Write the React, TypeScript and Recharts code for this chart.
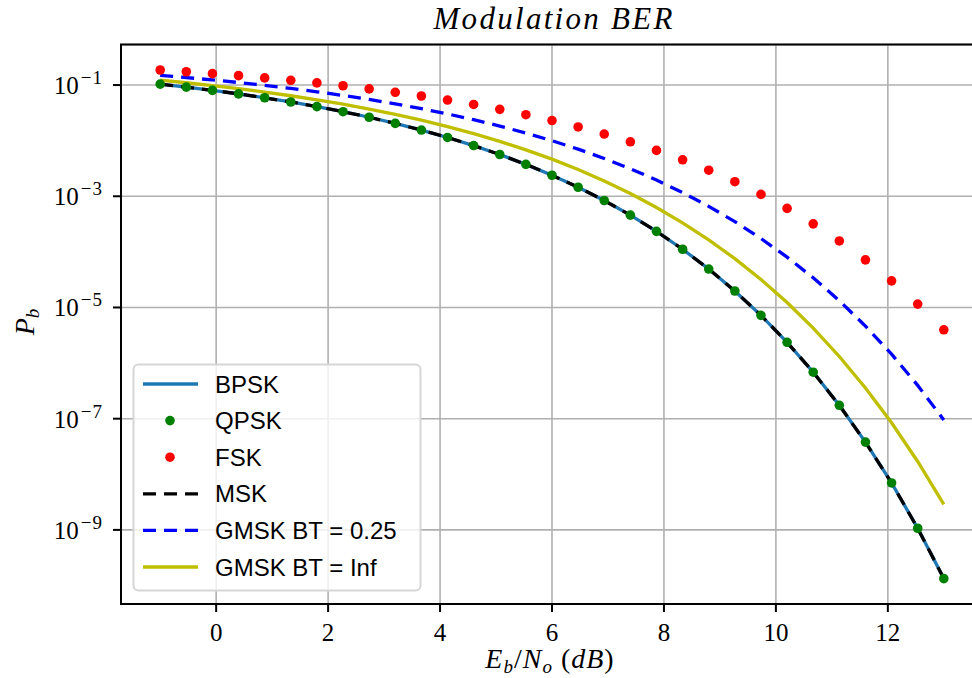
import React from 'react';
import { ComposedChart, Line, XAxis, YAxis, CartesianGrid, ReferenceArea } from 'recharts';

// Eb/No sample points (dB)
const ebno = [-1.0, -0.5333, -0.0667, 0.4, 0.8667, 1.3333, 1.8, 2.2667, 2.7333, 3.2, 3.6667, 4.1333, 4.6, 5.0667, 5.5333, 6.0, 6.4667, 6.9333, 7.4, 7.8667, 8.3333, 8.8, 9.2667, 9.7333, 10.2, 10.6667, 11.1333, 11.6, 12.0667, 12.5333, 13.0];

const bpsk = [0.1037, 0.09174, 0.08025, 0.06931, 0.05906, 0.04959, 0.04094, 0.03318, 0.02636, 0.02046, 0.0155, 0.011414, 0.00816, 0.005633, 0.003745, 0.002388, 0.001453, 8.385e-4, 4.575e-4, 2.341e-4, 1.115e-4, 4.908e-5, 1.977e-5, 7.217e-6, 2.364e-6, 6.858e-7, 1.739e-7, 3.79e-8, 6.991e-9, 1.071e-9, 1.332e-10];
const qpsk = [0.1037, 0.09174, 0.08025, 0.06931, 0.05906, 0.04959, 0.04094, 0.03318, 0.02636, 0.02046, 0.0155, 0.011414, 0.00816, 0.005633, 0.003745, 0.002388, 0.001453, 8.385e-4, 4.575e-4, 2.341e-4, 1.115e-4, 4.908e-5, 1.977e-5, 7.217e-6, 2.364e-6, 6.858e-7, 1.739e-7, 3.79e-8, 6.991e-9, 1.071e-9, 1.332e-10];
const fsk = [0.1864, 0.1735, 0.1605, 0.1475, 0.1346, 0.1218, 0.1093, 0.09711, 0.08535, 0.07416, 0.06359, 0.05375, 0.04473, 0.03656, 0.02932, 0.023, 0.01762, 0.013147, 0.009532, 0.006686, 0.004524, 0.002941, 0.001829, 0.0010812, 6.055e-4, 3.192e-4, 1.572e-4, 7.179e-5, 3.012e-5, 1.151e-5, 3.965e-6];
const msk = [0.1037, 0.09174, 0.08025, 0.06931, 0.05906, 0.04959, 0.04094, 0.03318, 0.02636, 0.02046, 0.0155, 0.011414, 0.00816, 0.005633, 0.003745, 0.002388, 0.001453, 8.385e-4, 4.575e-4, 2.341e-4, 1.115e-4, 4.908e-5, 1.977e-5, 7.217e-6, 2.364e-6, 6.858e-7, 1.739e-7, 3.79e-8, 6.991e-9, 1.071e-9, 1.332e-10];
const gmsk025 = [0.1493, 0.1364, 0.1236, 0.111, 0.09876, 0.08695, 0.07567, 0.06501, 0.05508, 0.04592, 0.03763, 0.03026, 0.02382, 0.01831, 0.013717, 0.009982, 0.007038, 0.004787, 0.00313, 0.0019585, 0.0011662, 6.588e-4, 3.502e-4, 1.741e-4, 8.034e-5, 3.414e-5, 1.324e-5, 4.626e-6, 1.444e-6, 3.969e-7, 9.48e-8];
const gmskInf = [0.1226, 0.11, 0.09784, 0.08607, 0.07483, 0.06422, 0.05435, 0.04526, 0.03704, 0.02974, 0.02337, 0.01793, 0.0134, 0.009731, 0.006841, 0.004659, 0.003025, 0.001886, 0.0011184, 6.288e-4, 3.329e-4, 1.646e-4, 7.551e-5, 3.188e-5, 1.2256e-5, 4.249e-6, 1.315e-6, 3.574e-7, 8.436e-8, 1.7e-8, 2.87e-9];

const xTicks = [0, 2, 4, 6, 8, 10, 12];
const yTickExponents = [-1, -3, -5, -7, -9];

const X_DOMAIN: [number, number] = [-1.7, 13.7];
const Y_DOMAIN: [number, number] = [4.649e-11, 0.5339];

const series = [
  { key: 'bpsk', name: 'BPSK', color: '#1f77b4', kind: 'line', dash: undefined as string | undefined },
  { key: 'qpsk', name: 'QPSK', color: '#008000', kind: 'dot', dash: undefined },
  { key: 'fsk', name: 'FSK', color: '#ff0000', kind: 'dot', dash: undefined },
  { key: 'msk', name: 'MSK', color: '#000000', kind: 'line', dash: '13 8' },
  { key: 'gmsk025', name: 'GMSK BT = 0.25', color: '#0000ff', kind: 'line', dash: '13 8' },
  { key: 'gmskInf', name: 'GMSK BT = Inf', color: '#bfbf00', kind: 'line', dash: undefined },
];

const data = ebno.map((x, i) => ({
  x,
  bpsk: bpsk[i],
  qpsk: qpsk[i],
  fsk: fsk[i],
  msk: msk[i],
  gmsk025: gmsk025[i],
  gmskInf: gmskInf[i],
}));

const SERIF = '"Liberation Serif", "DejaVu Serif", serif';
const SANS = '"Liberation Sans", Arial, sans-serif';
const LW = 3.3;
const DOT_R = 4.8;

const YTick = (props: any) => {
  const { x, y, payload } = props;
  const exp = Math.round(Math.log10(payload.value));
  return (
    <text x={x} y={y + 9} textAnchor="end" fontFamily={SERIF} fontSize={25} fill="#000">
      <tspan>10</tspan>
      <tspan dy={-10} dx={2} fontSize={19}>{'\u2212'}</tspan>
      <tspan dx={1} fontSize={19}>{Math.abs(exp)}</tspan>
    </text>
  );
};

const XTick = (props: any) => {
  const { x, y, payload } = props;
  return (
    <text x={x} y={y + 29} textAnchor="middle" fontFamily={SERIF} fontSize={25} fill="#000">
      {payload.value}
    </text>
  );
};

const Overlay = () => {
  const legendTop = 364;
  const rowY = (i: number) => 384 + i * 36.6;
  return (
    <svg width={972} height={678} style={{ position: 'absolute', left: 0, top: 0, pointerEvents: 'none' }}>
      {/* title */}
      <text x={553} y={29} textAnchor="middle" fontFamily={SERIF} fontStyle="italic" fontSize={31} textLength={239} lengthAdjust="spacing" fill="#000">
        Modulation BER
      </text>
      {/* x label */}
      <text x={550} y={668} textAnchor="middle" fontFamily={SERIF} fontSize={28} letterSpacing={1} fill="#000">
        <tspan fontStyle="italic">E</tspan>
        <tspan fontStyle="italic" fontSize={19} dy={5}>b</tspan>
        <tspan dy={-5}>/</tspan>
        <tspan fontStyle="italic">N</tspan>
        <tspan fontStyle="italic" fontSize={19} dy={5}>o</tspan>
        <tspan dy={-5}> (</tspan>
        <tspan fontStyle="italic">dB</tspan>
        <tspan>)</tspan>
      </text>
      {/* y label */}
      <g transform="translate(34,322) rotate(-90)">
        <text x={0} y={0} textAnchor="middle" fontFamily={SERIF} fontSize={28} fill="#000">
          <tspan fontStyle="italic">P</tspan>
          <tspan fontStyle="italic" fontSize={19} dy={5}>b</tspan>
        </text>
      </g>
      {/* legend */}
      <rect x={133.5} y={legendTop + 0.5} width={287} height={226} rx={5} ry={5} fill="#ffffff" fillOpacity={0.8} stroke="#d6d6d6" strokeWidth={2} />
      {series.map((s, i) => {
        const cy = rowY(i);
        return (
          <g key={s.key}>
            {s.kind === 'dot' ? (
              <circle cx={170} cy={cy} r={DOT_R} fill={s.color} />
            ) : (
              <line x1={143} x2={198} y1={cy} y2={cy} stroke={s.color} strokeWidth={LW} strokeDasharray={s.dash} />
            )}
            <text x={215} y={cy + 8.5} fontFamily={SANS} fontSize={24} fill="#000">
              {s.name}
            </text>
          </g>
        );
      })}
    </svg>
  );
};

export default function App() {
  return (
    <div style={{ position: 'absolute', left: 0, top: 0, width: 972, height: 678, overflow: 'hidden', background: '#fff' }}>
      <ComposedChart width={990} height={678} data={data} margin={{ top: 44.6, right: 7, left: 0, bottom: 0 }}>
        <CartesianGrid stroke="#b0b0b0" strokeWidth={1.6} />
        <XAxis
          dataKey="x"
          type="number"
          domain={X_DOMAIN}
          allowDataOverflow
          ticks={xTicks}
          interval={0}
          height={74}
          tickSize={8}
          tickMargin={0}
          tick={<XTick />}
          tickLine={{ stroke: '#000', strokeWidth: 2 }}
          axisLine={{ stroke: '#000', strokeWidth: 2 }}
        />
        <YAxis
          type="number"
          scale="log"
          domain={Y_DOMAIN}
          allowDataOverflow
          ticks={yTickExponents.map((e) => Math.pow(10, e))}
          interval={0}
          width={121}
          tickSize={8}
          tickMargin={11}
          tick={<YTick />}
          tickLine={{ stroke: '#000', strokeWidth: 2 }}
          axisLine={{ stroke: '#000', strokeWidth: 2 }}
        />
        {series.map((s) =>
          s.kind === 'dot' ? (
            <Line
              key={s.key}
              dataKey={s.key}
              name={s.name}
              stroke="none"
              dot={{ r: DOT_R, fill: s.color, stroke: 'none', strokeWidth: 0 }}
              activeDot={false}
              isAnimationActive={false}
            />
          ) : (
            <Line
              key={s.key}
              dataKey={s.key}
              name={s.name}
              type="linear"
              stroke={s.color}
              strokeWidth={LW}
              strokeDasharray={s.dash}
              dot={false}
              activeDot={false}
              isAnimationActive={false}
            />
          )
        )}
        <ReferenceArea x1={X_DOMAIN[0]} x2={X_DOMAIN[1]} y1={Y_DOMAIN[0]} y2={Y_DOMAIN[1]} fill="none" stroke="#000" strokeWidth={2} ifOverflow="visible" />
      </ComposedChart>
      <Overlay />
    </div>
  );
}
